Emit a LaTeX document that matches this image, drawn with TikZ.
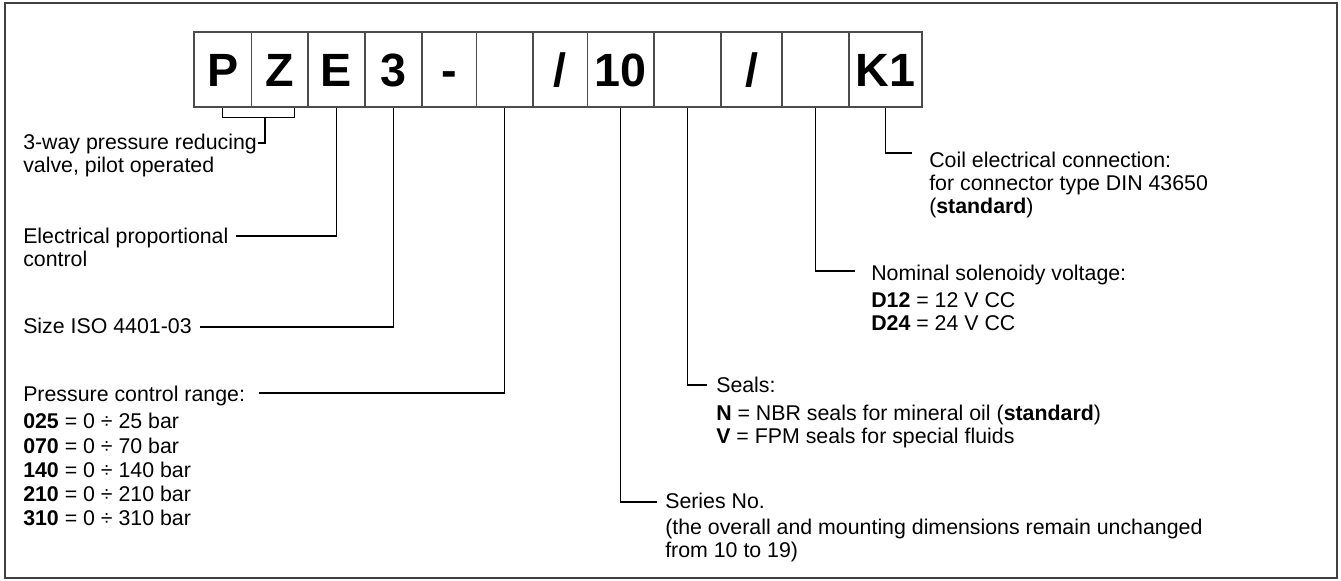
\documentclass[tikz,border=0pt]{standalone}
\usepackage{fontspec}
\setmainfont{Liberation Sans}

\begin{document}
\begin{tikzpicture}[x=0.75pt, y=-0.75pt,
    cell/.style={draw=black!70, line width=0.8pt, font=\bfseries\fontsize{35}{35}\selectfont,
      text height=25pt, text depth=0pt, minimum height=56.25pt, inner sep=0pt},
    lbl/.style={font=\fontsize{16}{17.25}\selectfont, align=left, anchor=north west, inner sep=0pt},
    lead/.style={line width=0.8pt}]
  %tikz  PZE3 ordering code
    \useasboundingbox (0,0) rectangle (1341,581);
    \draw[line width=1.2pt, black!75] (5,3) rectangle (1337,578);

    \foreach \xa/\xb/\txt/\nm in {194/251.5/P/bP, 251.5/308/Z/bZ, 308/365/E/bE, 365/422/3/bS,
        422/476.5/-/bD, 476.5/533/{}/bR, 533/587.6/\slash/bA, 587.6/654/10/bN,
        654/721/{}/bG, 721/782/\slash/bB, 782/849/{}/bV, 849/922/K1/bK}
      \node[cell, minimum width={(\xb-\xa)*0.75pt}] (\nm) at ({(\xa+\xb)/2},69.5) {\txt};

    \coordinate(sV) at (265,117);
    \coordinate(eV) at (258,143);
    \coordinate(eE) at (236,236);
    \coordinate(eS) at (200,327);
    \coordinate(eR) at (259,393);
    \coordinate(eN) at (657,502);
    \coordinate(eG) at (707,385);
    \coordinate(eU) at (855,271);
    \coordinate(eK) at (912,153);

    \draw[lead] (bP.south) -- ++(0,10) -| ([xshift=11.4pt]bZ.south);
    \draw[lead] (sV) |- (eV);
    \draw[lead] (bE.south) |- (eE);
    \draw[lead] (bS.south) |- (eS);
    \draw[lead] (bR.south) |- (eR);
    \draw[lead] (bN.south) |- (eN);
    \draw[lead] (bG.south) |- (eG);
    \draw[lead] (bV.south) |- (eU);
    \draw[lead] (bK.south) |- (eK);

    \node[lbl] (tV) at (23,133) {\strut 3-way pressure reducing\\valve, pilot operated};
    \node[lbl] (tE) at (23,227) {\strut Electrical proportional\\control};
    \node[lbl] (tS) at (23,317) {\strut Size ISO 4401-03};
    \node[lbl] (tR) at (23,385) {\strut Pressure control range:\\[3.4pt]
      \textbf{025} = 0 ÷ 25 bar\\[0.9pt]
      \textbf{070} = 0 ÷ 70 bar\\[0.9pt]
      \textbf{140} = 0 ÷ 140 bar\\[0.9pt]
      \textbf{210} = 0 ÷ 210 bar\\[0.9pt]
      \textbf{310} = 0 ÷ 310 bar};
    \node[lbl] (tK) at (929,151) {\strut Coil electrical connection:\\for connector type DIN 43650\\(\textbf{standard})};
    \node[lbl] (tU) at (871,264) {\strut Nominal solenoidy voltage:\\[3.4pt]
      \textbf{D12} = 12 V CC\\
      \textbf{D24} = 24 V CC};
    \node[lbl] (tG) at (716,376.6) {\strut Seals:\\[3.4pt]
      \textbf{N} = NBR seals for mineral oil (\textbf{standard})\\
      \textbf{V} = FPM seals for special fluids};
    \node[lbl] (tN) at (665,492) {\strut Series No.\\[2.2pt]
      (the overall and mounting dimensions remain unchanged\\
      from 10 to 19)};
  \end{tikzpicture}
\end{document}
